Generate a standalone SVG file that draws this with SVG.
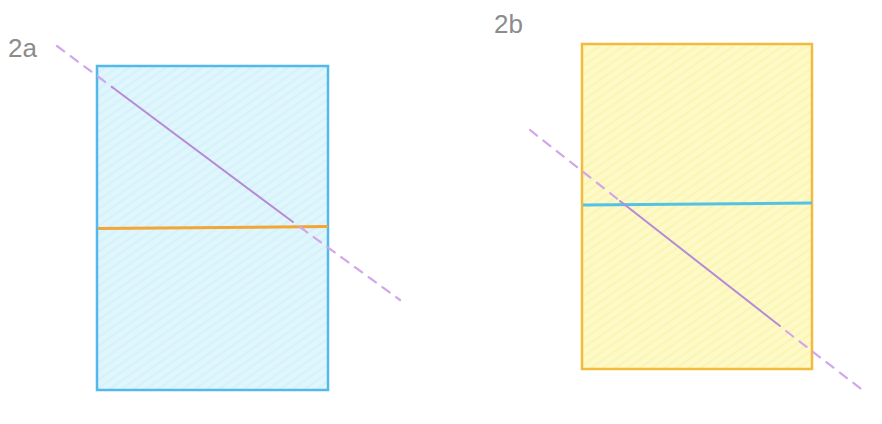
<svg xmlns="http://www.w3.org/2000/svg" width="882" height="424" viewBox="0 0 882 424">
<style>
.lbl{font-family:"Liberation Sans",Arial,sans-serif;font-size:26px;fill:#8c8c8c;font-weight:normal}
.solid{stroke:#b58ad6;stroke-width:2;fill:none;stroke-linecap:round}
.dash{stroke:#d2a6ea;stroke-width:2.2;fill:none;stroke-dasharray:9 8;stroke-linecap:round}
</style>
<defs>
<pattern id="hatchB" width="7" height="7" patternUnits="userSpaceOnUse" patternTransform="rotate(-35)">
<line x1="0" y1="3.5" x2="7" y2="3.5" stroke="#c8eef9" stroke-width="2"/>
</pattern>
<pattern id="hatchY" width="7" height="7" patternUnits="userSpaceOnUse" patternTransform="rotate(-35)">
<line x1="0" y1="3.5" x2="7" y2="3.5" stroke="#fbf29c" stroke-width="2"/>
</pattern>
</defs>
<rect width="882" height="424" fill="#ffffff"/>
<g id="label-2a"><text class="lbl" x="8" y="57">2a</text></g>
<g id="label-2b"><text class="lbl" x="494" y="33">2b</text></g>
<g id="rect-2a">
<rect x="97" y="66" width="231" height="324" fill="#e0f6fc"/>
<rect x="97" y="66" width="231" height="324" fill="url(#hatchB)" opacity="0.6"/>
<rect x="97" y="66" width="231" height="324" fill="none" stroke="#52b9ea" stroke-width="2.5"/>
</g>
<g id="rect-2b">
<rect x="582" y="44" width="230" height="325" fill="#fdf9c8"/>
<rect x="582" y="44" width="230" height="325" fill="url(#hatchY)" opacity="0.6"/>
<rect x="582" y="44" width="230" height="325" fill="none" stroke="#f2bb3e" stroke-width="2.5"/>
</g>
<g id="connectors">
<line x1="98" y1="228.5" x2="328" y2="226.5" stroke="#f3a535" stroke-width="3"/>
<line x1="583" y1="205" x2="812" y2="203" stroke="#52c3e6" stroke-width="3"/>
<line class="dash" x1="57" y1="46" x2="112" y2="87"/>
<line class="solid" x1="112" y1="87" x2="293" y2="222"/>
<line class="dash" x1="300" y1="227" x2="400" y2="300"/>
<line class="dash" x1="530" y1="130" x2="620" y2="201"/>
<line class="solid" x1="620" y1="201" x2="780" y2="326"/>
<line class="dash" x1="786" y1="331" x2="865" y2="392"/>
</g>
</svg>
